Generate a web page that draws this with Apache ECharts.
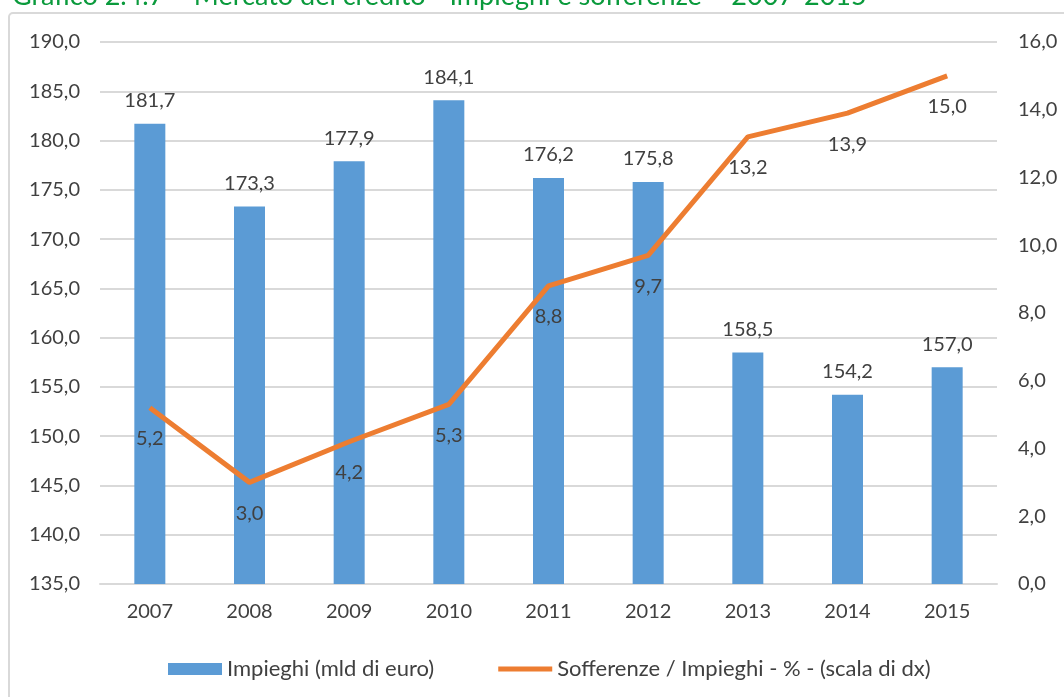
<!DOCTYPE html>
<html>
<head>
<meta charset="utf-8">
<script src="https://cdn.jsdelivr.net/npm/echarts@6/dist/echarts.min.js"></script>
<style>
  html, body { margin: 0; padding: 0; background: #fff; }
  #chart { width: 1064px; height: 697px; }
</style>
</head>
<body>
<div id="chart"></div>
<script>
// data
var anni = ['2007', '2008', '2009', '2010', '2011', '2012', '2013', '2014', '2015'];
var impieghi = [181.7, 173.3, 177.9, 184.1, 176.2, 175.8, 158.5, 154.2, 157.0];
var sofferenze = [5.2, 3.0, 4.2, 5.3, 8.8, 9.7, 13.2, 13.9, 15.0];
var titolo = 'Grafico 2.4.7 \u2013 Mercato del credito - Impieghi e sofferenze \u2013 2007-2015';

function virgola(v) {
    return Number(v).toFixed(1).replace('.', ',');
}

var font = 'Lato';
var grigio = '#404040';

var myChart = echarts.init(document.getElementById('chart'));
var option = {
    animation: false,
    textStyle: { fontFamily: font },
    graphic: [
        {
            type: 'rect',
            shape: { x: 9, y: 13, width: 1100, height: 800, r: 4 },
            style: { fill: 'none', stroke: '#d9d9d9', lineWidth: 2 }
        },
        {
            type: 'text',
            left: 12,
            top: -17,
            style: { text: titolo, fill: '#0a9a3c', font: '27px Lato' }
        }
    ],
    grid: { left: 100, right: 67, top: 42, bottom: 113 },
    legend: {
        bottom: 12,
        left: 163,
        itemWidth: 54,
        itemHeight: 12,
        itemGap: 64,
        textStyle: { fontSize: 22, color: grigio, fontFamily: font },
        data: [
            { name: 'Impieghi (mld di euro)', icon: 'rect' },
            { name: 'Sofferenze / Impieghi - % - (scala di dx)', icon: 'path://M0,0 H54 V5 H0 Z' }
        ]
    },
    xAxis: {
        type: 'category',
        data: anni,
        axisTick: { show: false },
        axisLine: { lineStyle: { color: '#d9d9d9', width: 2 } },
        axisLabel: { fontSize: 20, color: grigio, margin: 18 }
    },
    yAxis: [
        {
            type: 'value',
            min: 135,
            max: 190,
            interval: 5,
            axisLine: { show: false },
            axisTick: { show: false },
            splitLine: { lineStyle: { color: '#d9d9d9', width: 2 } },
            axisLabel: { fontSize: 20, color: grigio, margin: 20, formatter: virgola }
        },
        {
            type: 'value',
            min: 0,
            max: 16,
            interval: 2,
            axisLine: { show: false },
            axisTick: { show: false },
            splitLine: { show: false },
            axisLabel: { fontSize: 20, color: grigio, margin: 21, formatter: virgola }
        }
    ],
    series: [
        {
            name: 'Impieghi (mld di euro)',
            type: 'bar',
            data: impieghi,
            barWidth: 31,
            itemStyle: { color: '#5b9bd5' },
            label: {
                show: true,
                position: 'top',
                distance: 13,
                fontSize: 20,
                color: grigio,
                formatter: function (p) { return virgola(p.value); }
            }
        },
        {
            name: 'Sofferenze / Impieghi - % - (scala di dx)',
            type: 'line',
            yAxisIndex: 1,
            data: sofferenze,
            symbol: 'circle',
            symbolSize: 0.1,
            lineStyle: { color: '#ed7d31', width: 5 },
            itemStyle: { color: '#ed7d31' },
            label: {
                show: true,
                position: 'bottom',
                distance: 21,
                fontSize: 20,
                color: grigio,
                formatter: function (p) { return virgola(p.value); }
            }
        }
    ]
};
myChart.setOption(option);
</script>
</body>
</html>
